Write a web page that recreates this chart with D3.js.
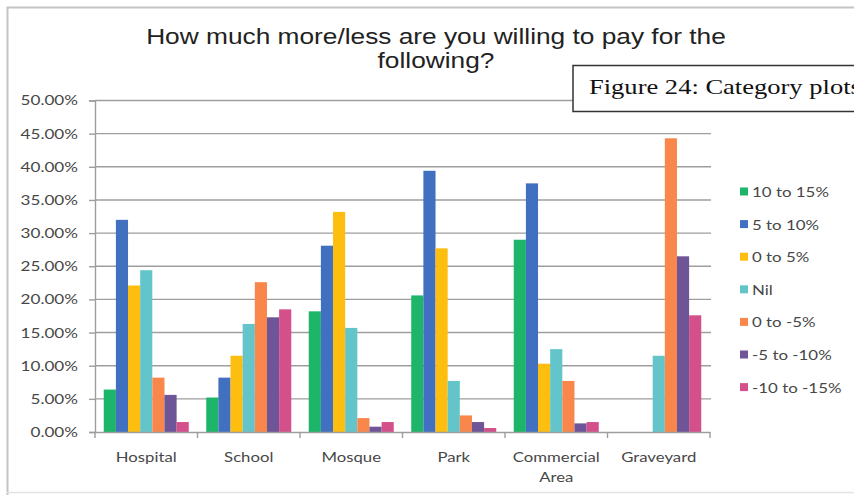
<!DOCTYPE html>
<html>
<head>
<meta charset="utf-8">
<script src="https://cdn.jsdelivr.net/npm/d3@7"></script>
<style>
  html, body { margin: 0; padding: 0; background: #fff; }
  svg { display: block; }
</style>
</head>
<body>
<svg id="chart" width="854" height="495"></svg>
<script>
// Survey: willingness to pay more/less, share of respondents per facility
const categories = ["Hospital", "School", "Mosque", "Park", "Commercial Area", "Graveyard"];
const seriesNames = ["10 to 15%", "5 to 10%", "0 to 5%", "Nil", "0 to -5%", "-5 to -10%", "-10 to -15%"];
const seriesColors = ["#1cb569", "#4170c0", "#fdbe10", "#63c5c9", "#f9874b", "#6e5598", "#d4508a"];

// one array per category, ordered like seriesNames (fractions)
const hospital   = [0.064, 0.320, 0.221, 0.244, 0.082, 0.056, 0.015];
const school     = [0.052, 0.082, 0.115, 0.163, 0.226, 0.173, 0.185];
const mosque     = [0.182, 0.281, 0.332, 0.157, 0.021, 0.008, 0.015];
const park       = [0.206, 0.394, 0.277, 0.077, 0.025, 0.015, 0.006];
const commercial = [0.290, 0.375, 0.103, 0.125, 0.077, 0.013, 0.015];
const graveyard  = [0.000, 0.000, 0.000, 0.115, 0.443, 0.265, 0.176];
const values = [hospital, school, mosque, park, commercial, graveyard];

const yTicks = [0, 0.05, 0.10, 0.15, 0.20, 0.25, 0.30, 0.35, 0.40, 0.45, 0.50];

const svg = d3.select("#chart");
const font = "Lato, 'Open Sans', sans-serif";
const textColor = "#474747";

// Widen a text horizontally about its own x anchor so that the
// sample string spans the given width.
function widen(sel, sampleWidth, measureNode) {
  const w = measureNode.getComputedTextLength();
  const sx = sampleWidth / w;
  sel.each(function() {
    const x = +(this.getAttribute("x") || 0);
    this.setAttribute("transform",
      `translate(${x},0) scale(${sx},1) translate(${-x},0)`);
  });
}

// outer frame of the chart area
svg.append("path")
  .attr("d", "M7.5,495 V7.5 H854")
  .attr("fill", "none").attr("stroke", "#c4c4c4").attr("stroke-width", 2);
svg.append("line")
  .attr("x1", 7).attr("x2", 854).attr("y1", 492.5).attr("y2", 492.5)
  .attr("stroke", "#e4e4e4").attr("stroke-width", 1.5);

const plot = { left: 95, right: 710, top: 100.5, bottom: 432 };

const y = d3.scaleLinear().domain([0, 0.5]).range([plot.bottom, plot.top]);
const x0 = d3.scaleBand().domain(categories).range([plot.left, plot.right]).padding(0);
const x1 = d3.scaleBand().domain(seriesNames).range([0, x0.bandwidth()])
  .paddingInner(0).paddingOuter(0.72);
const color = d3.scaleOrdinal().domain(seriesNames).range(seriesColors);

// horizontal gridlines
svg.append("g")
  .selectAll("line")
  .data(yTicks.slice(1))
  .join("line")
  .attr("x1", plot.left).attr("x2", plot.right + 1)
  .attr("y1", d => y(d)).attr("y2", d => y(d))
  .attr("stroke", "#9e9e9e").attr("stroke-width", 1.4);

// y axis
const yAxis = d3.axisLeft(y)
  .tickValues(yTicks)
  .tickFormat(d3.format(".2%"))
  .tickSize(6)
  .tickPadding(11);
const gy = svg.append("g")
  .attr("transform", `translate(${plot.left},0)`)
  .call(yAxis);
gy.select(".domain").attr("stroke", "#9e9e9e").attr("stroke-width", 1.4);
gy.selectAll(".tick line").attr("stroke", "#9e9e9e").attr("stroke-width", 1.4);
const yLabels = gy.selectAll(".tick text")
  .attr("font-family", font).attr("font-size", 14).attr("fill", textColor);
widen(yLabels, 57.5, yLabels.nodes()[yLabels.size() - 1]);

// bars
const groups = svg.append("g")
  .selectAll("g")
  .data(categories)
  .join("g")
  .attr("transform", d => `translate(${x0(d)},0)`);

groups.selectAll("rect")
  .data((c, i) => seriesNames.map((s, j) => ({ series: s, value: values[i][j] })))
  .join("rect")
  .attr("x", d => x1(d.series))
  .attr("width", x1.bandwidth())
  .attr("y", d => y(d.value))
  .attr("height", d => y(0) - y(d.value))
  .attr("fill", d => color(d.series));

// x axis
const xAxis = d3.axisBottom(x0).tickSize(0).tickFormat("");
const gx = svg.append("g")
  .attr("transform", `translate(0,${plot.bottom})`)
  .call(xAxis);
gx.select(".domain").attr("stroke", "#9e9e9e").attr("stroke-width", 1.4);

// tick marks between categories
const boundaries = categories.map(c => x0(c)).concat([plot.right]);
gx.selectAll(".bound")
  .data(boundaries)
  .join("line")
  .attr("class", "bound")
  .attr("x1", d => d).attr("x2", d => d)
  .attr("y1", 0).attr("y2", 6)
  .attr("stroke", "#9e9e9e").attr("stroke-width", 1.4);

// category labels ("Commercial Area" wraps onto two lines)
const catLabels = svg.append("g")
  .selectAll("text")
  .data(categories)
  .join("text")
  .attr("x", d => x0(d) + x0.bandwidth() / 2)
  .attr("y", 462)
  .attr("text-anchor", "middle")
  .attr("font-family", font).attr("font-size", 14).attr("fill", textColor);
catLabels.each(function(d) {
  const words = d === "Commercial Area" ? ["Commercial", "Area"] : [d];
  const t = d3.select(this);
  words.forEach((w, k) => {
    t.append("tspan")
      .attr("x", x0(d) + x0.bandwidth() / 2)
      .attr("dy", k === 0 ? 0 : 20)
      .text(w);
  });
});
widen(catLabels, 61, catLabels.nodes()[0]);

// legend
const legend = svg.append("g")
  .selectAll("g")
  .data(seriesNames)
  .join("g")
  .attr("transform", (d, i) => `translate(740,${192 + i * 32.6})`);
legend.append("rect")
  .attr("x", 0).attr("y", -4.5).attr("width", 8).attr("height", 8)
  .attr("fill", d => color(d));
const legendText = legend.append("text")
  .attr("x", 12).attr("y", 5)
  .attr("font-family", font).attr("font-size", 14).attr("fill", textColor)
  .text(d => d);
widen(legendText, 77, legendText.nodes()[0]);

// title
const title = svg.append("text")
  .attr("x", 436)
  .attr("text-anchor", "middle")
  .attr("font-family", "'Liberation Sans', Arial, sans-serif")
  .attr("font-size", 22.5).attr("fill", "#222");
const t1 = title.append("tspan").attr("x", 436).attr("y", 44)
  .text("How much more/less are you willing to pay for the");
title.append("tspan").attr("x", 436).attr("y", 68)
  .text("following?");
widen(title, 580, t1.node());

// caption box
svg.append("rect")
  .attr("x", 573).attr("y", 65.5).attr("width", 300).attr("height", 46)
  .attr("fill", "#fff").attr("stroke", "#333").attr("stroke-width", 1.5);
const caption = svg.append("text")
  .attr("x", 589).attr("y", 94)
  .attr("font-family", "'Liberation Serif', 'Times New Roman', serif")
  .attr("font-size", 21.5).attr("fill", "#111")
  .text("Figure 24: Category plots");
widen(caption, 272, caption.node());
</script>
</body>
</html>
